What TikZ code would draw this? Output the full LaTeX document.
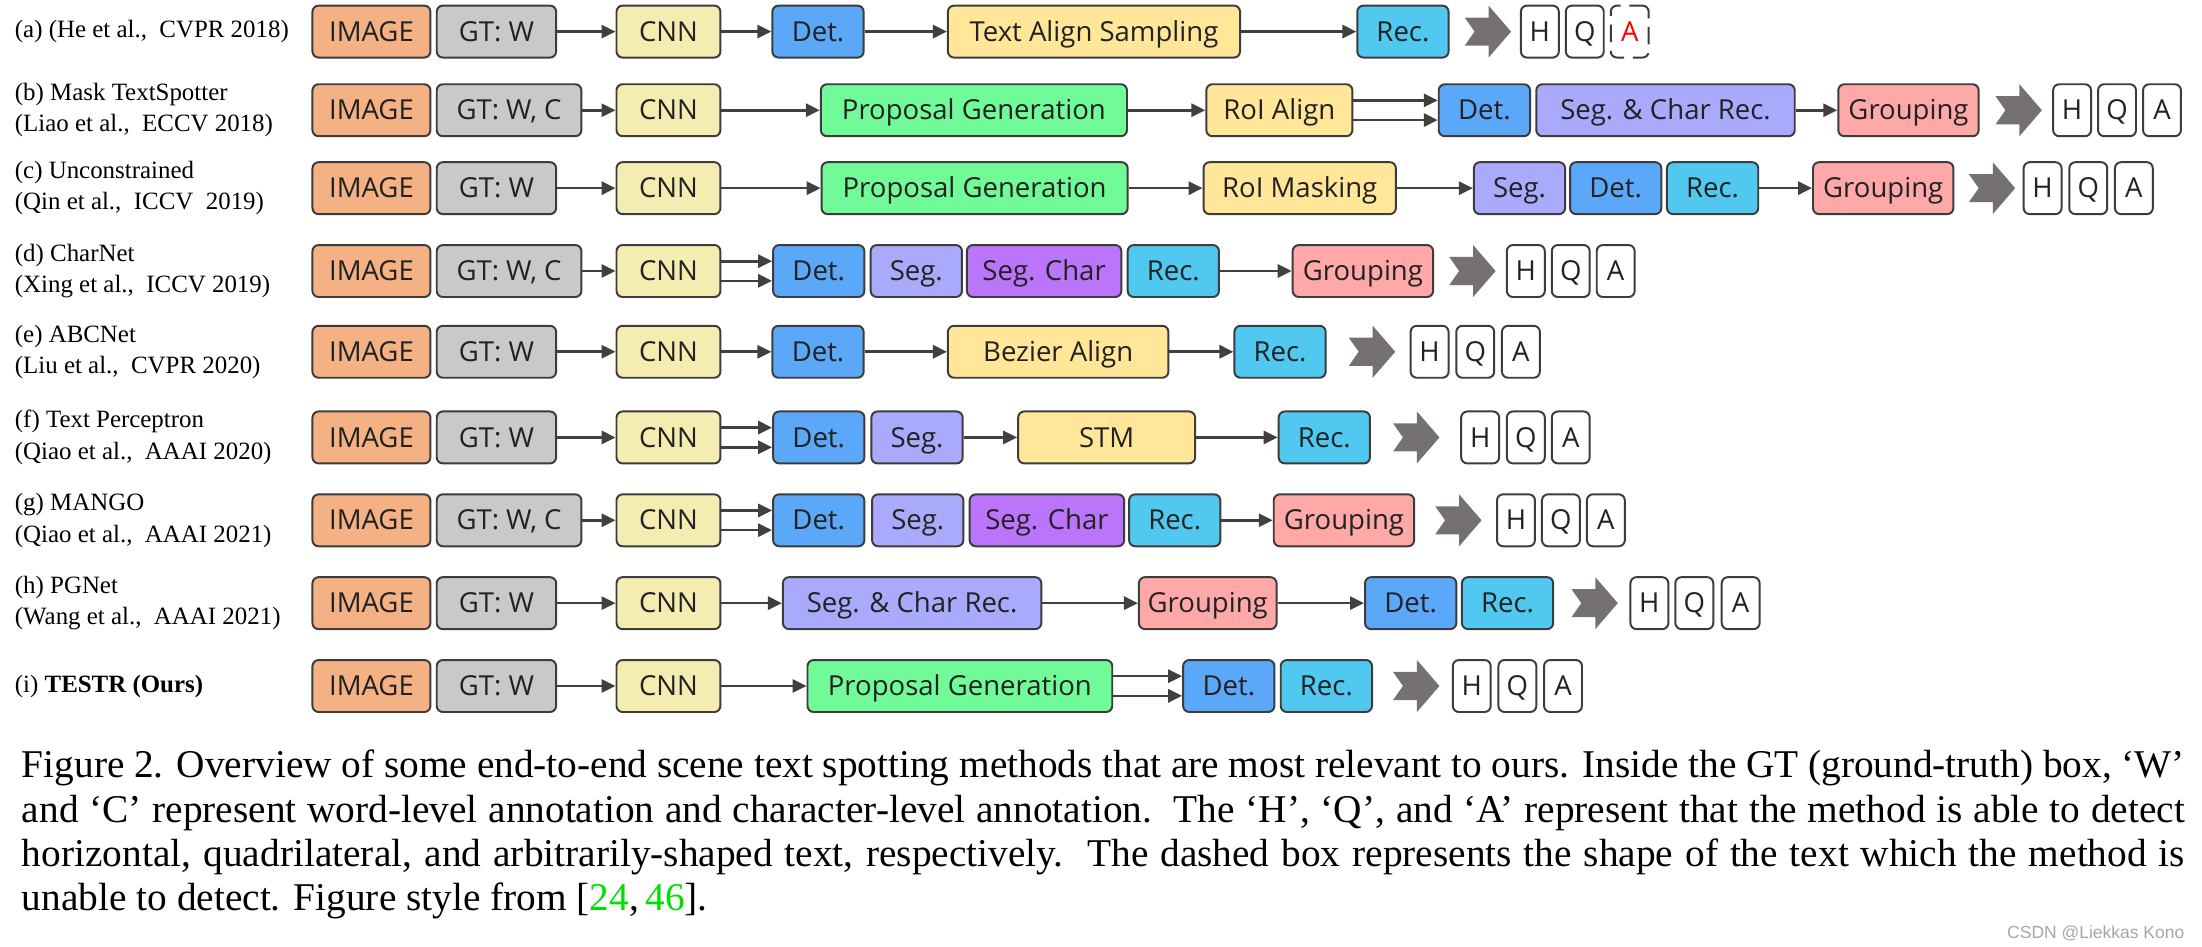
\documentclass[tikz,border=0pt]{standalone}
\usepackage{fontspec}
\setmainfont{Liberation Serif}
\newfontfamily\boxfont{Open Sans}
\newfontfamily\markfont{Liberation Sans}
\usetikzlibrary{arrows.meta}

\definecolor{imgc}{HTML}{F4B183}
\definecolor{gtc}{HTML}{C9C9C9}
\definecolor{cnnc}{HTML}{F5ECB2}
\definecolor{detc}{HTML}{5BA7F8}
\definecolor{recc}{HTML}{50C8EF}
\definecolor{propc}{HTML}{70FA98}
\definecolor{algnc}{HTML}{FFE699}
\definecolor{segc}{HTML}{AAAAFD}
\definecolor{charc}{HTML}{BB75FB}
\definecolor{grpc}{HTML}{FFA8A8}
\definecolor{chevc}{HTML}{767171}
\definecolor{edgec}{HTML}{3C3C3C}
\definecolor{linkc}{HTML}{404040}
\definecolor{txtc}{HTML}{222222}
\definecolor{citec}{HTML}{00E000}

\def\ux{0.3214pt}

% notched arrow between pipeline and output boxes
\newcommand{\notchright}[1]{\fill[chevc] (#1) ++(0,-10) -- ++(17,0) -- ++(0,-8.5)
  -- ++(16,18.5) -- ++(-16,18.5) -- ++(0,-8.5) -- ++(-17,0) -- ++(7,-10) -- cycle;}

\tikzset{
  blk/.style={draw=edgec,line width=0.45pt,rounded corners=1.4pt,minimum height=37*\ux,
    inner sep=0pt,text height=5.9pt,text depth=1.5pt,text=txtc,font=\boxfont\fontsize{6.3}{7}\selectfont},
  bw/.style={minimum width=#1*\ux},
  imgbox/.style={blk,fill=imgc,bw=84},
  gtbox/.style={blk,fill=gtc,bw=85},
  cnnbox/.style={blk,fill=cnnc,bw=74},
  detbox/.style={blk,fill=detc,bw=65},
  recbox/.style={blk,fill=recc,bw=65},
  segbox/.style={blk,fill=segc,bw=65},
  propbox/.style={blk,fill=propc,bw=218},
  algnbox/.style={blk,fill=algnc},
  charbox/.style={blk,fill=charc,bw=110},
  grpbox/.style={blk,fill=grpc,bw=100},
  outbox/.style={blk,fill=white,bw=27},
  lnk/.style={draw=linkc,line width=0.6pt,-{Triangle[length=3.2pt,width=3pt]}},
  lab/.style={anchor=west,inner sep=0pt,align=left,font=\fontsize{5.7}{7.2}\selectfont},
  captext/.style={anchor=base west,inner sep=0pt,font=\fontsize{9}{10}\selectfont},
}

\begin{document}
\begin{tikzpicture}[x=0.3214pt,y=-0.3214pt]
	\useasboundingbox (0,0) rectangle (1568,674);
	
	% (a)
	\node[lab] (labA) at (10,22.5) {(a) (He et al.,\ \ CVPR 2018)};
	\node[imgbox] (imgA) at (264.5,22.5) {IMAGE};
	\node[gtbox] (gtA) at (353.5,22.5) {GT: W};
	\node[cnnbox] (cnnA) at (476,22.5) {CNN};
	\node[detbox] (detA) at (582.5,22.5) {Det.};
	\node[algnbox,bw=208] (tasA) at (779,22.5) {Text Align Sampling};
	\node[recbox] (recA) at (999,22.5) {Rec.};
	\coordinate (chA) at (1043,22.5);
	\notchright{chA}
	\node[outbox] (hA) at (1096.5,22.5) {H};
	\node[outbox] (qA) at (1128.5,22.5) {Q};
	\node[outbox,dash pattern=on 4pt off 2pt,dash phase=1pt,text=red] (aA) at (1160.5,22.5) {A};
	\draw[lnk] (gtA) -- (cnnA);
	\draw[lnk] (cnnA) -- (detA);
	\draw[lnk] (detA) -- (tasA);
	\draw[lnk] (tasA) -- (recA);
	
	% (b)
	\node[lab] (labB) at (10,78.5) {(b) Mask TextSpotter\\(Liao et al.,\ \ ECCV 2018)};
	\node[imgbox] (imgB) at (264.5,78.5) {IMAGE};
	\node[gtbox,bw=103] (gtB) at (362.5,78.5) {GT: W, C};
	\node[cnnbox] (cnnB) at (476,78.5) {CNN};
	\node[propbox] (propB) at (693.5,78.5) {Proposal Generation};
	\node[algnbox,bw=104] (roiB) at (911,78.5) {RoI Align};
	\node[detbox] (detB) at (1057,78.5) {Det.};
	\node[segbox,bw=184] (scrB) at (1186,78.5) {Seg. \& Char Rec.};
	\node[grpbox] (grpB) at (1359,78.5) {Grouping};
	\coordinate (chB) at (1421,78.5);
	\notchright{chB}
	\node[outbox] (hB) at (1475.5,78.5) {H};
	\node[outbox] (qB) at (1507.5,78.5) {Q};
	\node[outbox] (aB) at (1539.5,78.5) {A};
	\draw[lnk] (gtB) -- (cnnB);
	\draw[lnk] (cnnB) -- (propB);
	\draw[lnk] (propB) -- (roiB);
	\draw[lnk] ([yshift=2.25pt]roiB.east) -- ([yshift=2.25pt]detB.west);
	\draw[lnk] ([yshift=-2.25pt]roiB.east) -- ([yshift=-2.25pt]detB.west);
	\draw[lnk] (scrB) -- (grpB);
	
	% (c)
	\node[lab] (labC) at (10,134) {(c) Unconstrained\\(Qin et al.,\ \ ICCV\ \ 2019)};
	\node[imgbox] (imgC) at (264.5,134) {IMAGE};
	\node[gtbox] (gtC) at (353.5,134) {GT: W};
	\node[cnnbox] (cnnC) at (476,134) {CNN};
	\node[propbox] (propC) at (694,134) {Proposal Generation};
	\node[algnbox,bw=137] (roiC) at (925.5,134) {RoI Masking};
	\node[segbox] (segC) at (1082,134) {Seg.};
	\node[detbox] (detC) at (1150.5,134) {Det.};
	\node[recbox] (recC) at (1219.5,134) {Rec.};
	\node[grpbox] (grpC) at (1341,134) {Grouping};
	\coordinate (chC) at (1402,134);
	\notchright{chC}
	\node[outbox] (hC) at (1454.5,134) {H};
	\node[outbox] (qC) at (1487,134) {Q};
	\node[outbox] (aC) at (1519.5,134) {A};
	\draw[lnk] (gtC) -- (cnnC);
	\draw[lnk] (cnnC) -- (propC);
	\draw[lnk] (propC) -- (roiC);
	\draw[lnk] (roiC) -- (segC);
	\draw[lnk] (recC) -- (grpC);
	
	% (d)
	\node[lab] (labD) at (10,193) {(d) CharNet\\(Xing et al.,\ \ ICCV 2019)};
	\node[imgbox] (imgD) at (264.5,193) {IMAGE};
	\node[gtbox,bw=103] (gtD) at (362.5,193) {GT: W, C};
	\node[cnnbox] (cnnD) at (476,193) {CNN};
	\node[detbox] (detD) at (583,193) {Det.};
	\node[segbox] (segD) at (652.5,193) {Seg.};
	\node[charbox] (schD) at (743.5,193) {Seg. Char};
	\node[recbox] (recD) at (835.5,193) {Rec.};
	\node[grpbox] (grpD) at (970.5,193) {Grouping};
	\coordinate (chD) at (1032,193);
	\notchright{chD}
	\node[outbox] (hD) at (1086.5,193) {H};
	\node[outbox] (qD) at (1118.5,193) {Q};
	\node[outbox] (aD) at (1150.5,193) {A};
	\draw[lnk] (gtD) -- (cnnD);
	\draw[lnk] ([yshift=2.25pt]cnnD.east) -- ([yshift=2.25pt]detD.west);
	\draw[lnk] ([yshift=-2.25pt]cnnD.east) -- ([yshift=-2.25pt]detD.west);
	\draw[lnk] (recD) -- (grpD);
	
	% (e)
	\node[lab] (labE) at (10,250.5) {(e) ABCNet\\(Liu et al.,\ \ CVPR 2020)};
	\node[imgbox] (imgE) at (264.5,250.5) {IMAGE};
	\node[gtbox] (gtE) at (353.5,250.5) {GT: W};
	\node[cnnbox] (cnnE) at (476,250.5) {CNN};
	\node[detbox] (detE) at (582.5,250.5) {Det.};
	\node[algnbox,bw=157] (bezE) at (753.5,250.5) {Bezier Align};
	\node[recbox] (recE) at (911.5,250.5) {Rec.};
	\coordinate (chE) at (960.5,250.5);
	\notchright{chE}
	\node[outbox] (hE) at (1018,250.5) {H};
	\node[outbox] (qE) at (1050.5,250.5) {Q};
	\node[outbox] (aE) at (1083,250.5) {A};
	\draw[lnk] (gtE) -- (cnnE);
	\draw[lnk] (cnnE) -- (detE);
	\draw[lnk] (detE) -- (bezE);
	\draw[lnk] (bezE) -- (recE);
	
	% (f)
	\node[lab] (labF) at (10,311.5) {(f) Text Perceptron\\(Qiao et al.,\ \ AAAI 2020)};
	\node[imgbox] (imgF) at (264.5,311.5) {IMAGE};
	\node[gtbox] (gtF) at (353.5,311.5) {GT: W};
	\node[cnnbox] (cnnF) at (476,311.5) {CNN};
	\node[detbox] (detF) at (583,311.5) {Det.};
	\node[segbox] (segF) at (653,311.5) {Seg.};
	\node[algnbox,bw=126] (stmF) at (788,311.5) {STM};
	\node[recbox] (recF) at (943,311.5) {Rec.};
	\coordinate (chF) at (992,311.5);
	\notchright{chF}
	\node[outbox] (hF) at (1054,311.5) {H};
	\node[outbox] (qF) at (1086.5,311.5) {Q};
	\node[outbox] (aF) at (1118.5,311.5) {A};
	\draw[lnk] (gtF) -- (cnnF);
	\draw[lnk] ([yshift=2.25pt]cnnF.east) -- ([yshift=2.25pt]detF.west);
	\draw[lnk] ([yshift=-2.25pt]cnnF.east) -- ([yshift=-2.25pt]detF.west);
	\draw[lnk] (segF) -- (stmF);
	\draw[lnk] (stmF) -- (recF);
	
	% (g)
	\node[lab] (labG) at (10,370.5) {(g) MANGO\\(Qiao et al.,\ \ AAAI 2021)};
	\node[imgbox] (imgG) at (264.5,370.5) {IMAGE};
	\node[gtbox,bw=103] (gtG) at (362.5,370.5) {GT: W, C};
	\node[cnnbox] (cnnG) at (476,370.5) {CNN};
	\node[detbox] (detG) at (583,370.5) {Det.};
	\node[segbox] (segG) at (653.5,370.5) {Seg.};
	\node[charbox] (schG) at (745.5,370.5) {Seg. Char};
	\node[recbox] (recG) at (836.5,370.5) {Rec.};
	\node[grpbox] (grpG) at (957,370.5) {Grouping};
	\coordinate (chG) at (1022,370.5);
	\notchright{chG}
	\node[outbox] (hG) at (1079.5,370.5) {H};
	\node[outbox] (qG) at (1111.5,370.5) {Q};
	\node[outbox] (aG) at (1143.5,370.5) {A};
	\draw[lnk] (gtG) -- (cnnG);
	\draw[lnk] ([yshift=2.25pt]cnnG.east) -- ([yshift=2.25pt]detG.west);
	\draw[lnk] ([yshift=-2.25pt]cnnG.east) -- ([yshift=-2.25pt]detG.west);
	\draw[lnk] (recG) -- (grpG);
	
	% (h)
	\node[lab] (labH) at (10,429.5) {(h) PGNet\\(Wang et al.,\ \ AAAI 2021)};
	\node[imgbox] (imgH) at (264.5,429.5) {IMAGE};
	\node[gtbox] (gtH) at (353.5,429.5) {GT: W};
	\node[cnnbox] (cnnH) at (476,429.5) {CNN};
	\node[segbox,bw=184] (scrH) at (649.5,429.5) {Seg. \& Char Rec.};
	\node[grpbox,bw=98] (grpH) at (860,429.5) {Grouping};
	\node[detbox] (detH) at (1004.5,429.5) {Det.};
	\node[recbox] (recH) at (1073.5,429.5) {Rec.};
	\coordinate (chH) at (1119,429.5);
	\notchright{chH}
	\node[outbox] (hH) at (1174.5,429.5) {H};
	\node[outbox] (qH) at (1206.5,429.5) {Q};
	\node[outbox] (aH) at (1239.5,429.5) {A};
	\draw[lnk] (gtH) -- (cnnH);
	\draw[lnk] (cnnH) -- (scrH);
	\draw[lnk] (scrH) -- (grpH);
	\draw[lnk] (grpH) -- (detH);
	
	% (i)
	\node[lab] (labI) at (10,488.5) {(i) \textbf{TESTR (Ours)}};
	\node[imgbox] (imgI) at (264.5,488.5) {IMAGE};
	\node[gtbox] (gtI) at (353.5,488.5) {GT: W};
	\node[cnnbox] (cnnI) at (476,488.5) {CNN};
	\node[propbox,bw=217] (propI) at (683.5,488.5) {Proposal Generation};
	\node[detbox] (detI) at (875,488.5) {Det.};
	\node[recbox] (recI) at (944.5,488.5) {Rec.};
	\coordinate (chI) at (992,488.5);
	\notchright{chI}
	\node[outbox] (hI) at (1048,488.5) {H};
	\node[outbox] (qI) at (1080.5,488.5) {Q};
	\node[outbox] (aI) at (1113,488.5) {A};
	\draw[lnk] (gtI) -- (cnnI);
	\draw[lnk] (cnnI) -- (propI);
	\draw[lnk] ([yshift=2.25pt]propI.east) -- ([yshift=2.25pt]detI.west);
	\draw[lnk] ([yshift=-2.25pt]propI.east) -- ([yshift=-2.25pt]detI.west);
	
	% caption
	\node[captext] (capA) at (15,554) {\makebox[495pt][s]{Figure 2. Overview of some end-to-end scene text spotting methods that are most relevant to ours. Inside the GT (ground-truth) box, `W'}};
	\node[captext] (capB) at (15,585.5) {\makebox[495pt][s]{and `C' represent word-level annotation and character-level annotation.\ \ The `H', `Q', and `A' represent that the method is able to detect}};
	\node[captext] (capC) at (15,617) {\makebox[495pt][s]{horizontal, quadrilateral, and arbitrarily-shaped text, respectively.\ \ The dashed box represents the shape of the text which the method is}};
	\node[captext] (capD) at (15,648.5) {unable to detect. Figure style from [{\color{citec}24},\,{\color{citec}46}].};
	\node[anchor=base east,inner sep=0pt,text=gray!70,font=\markfont\fontsize{4}{5}\selectfont] (mark) at (1556,668) {CSDN @Liekkas Kono};
\end{tikzpicture}
\end{document}
